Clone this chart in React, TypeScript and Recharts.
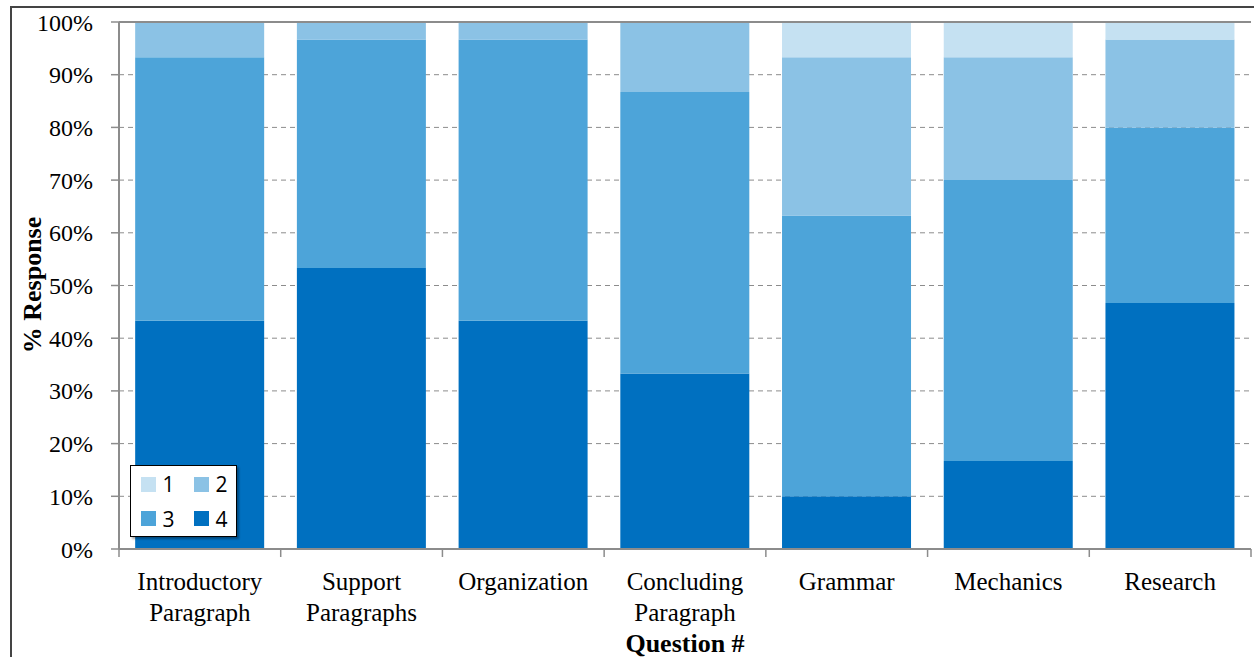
import {
  Bar,
  BarChart,
  CartesianGrid,
  Label,
  Legend,
  ReferenceLine,
  XAxis,
  YAxis,
} from "recharts";

const categories = [
  "Introductory Paragraph",
  "Support Paragraphs",
  "Organization",
  "Concluding Paragraph",
  "Grammar",
  "Mechanics",
  "Research",
];

// share of responses (%) per rating
const rating4 = [43.3, 53.3, 43.3, 33.3, 10, 16.7, 46.7];
const rating3 = [50, 43.4, 53.4, 53.4, 53.3, 53.3, 33.3];
const rating2 = [6.7, 3.3, 3.3, 13.3, 30, 23.3, 16.7];
const rating1 = [0, 0, 0, 0, 6.7, 6.7, 3.3];

const yTicks = [0, 10, 20, 30, 40, 50, 60, 70, 80, 90, 100];

const colors = { r1: "#C5E1F2", r2: "#8BC2E5", r3: "#4DA4D9", r4: "#0070C0" };
const legendItems = [
  { key: "1", color: colors.r1 },
  { key: "2", color: colors.r2 },
  { key: "3", color: colors.r3 },
  { key: "4", color: colors.r4 },
];

const data = categories.map((name, i) => ({
  name,
  r4: rating4[i],
  r3: rating3[i],
  r2: rating2[i],
  r1: rating1[i],
}));

const W = 1254;
const H = 657;
const margin = { top: 22, right: 3, bottom: 0, left: 59 };
const yAxisWidth = 60;
const xAxisHeight = 108;
const band = (W - margin.left - yAxisWidth - margin.right) / categories.length;
const serif = "'Liberation Serif', 'Times New Roman', serif";
const axisGray = "#8c8c8c";

function CategoryTick(props: any) {
  const { x, y, payload, index } = props;
  const words = String(payload.value).split(" ");
  return (
    <g>
      <line x1={x - band / 2} x2={x - band / 2} y1={y} y2={y + 8} stroke={axisGray} strokeWidth={1.5} />
      {index === categories.length - 1 && (
        <line x1={x + band / 2} x2={x + band / 2} y1={y} y2={y + 8} stroke={axisGray} strokeWidth={1.5} />
      )}
      <text x={x} y={y} textAnchor="middle" fontFamily={serif} fontSize={25} fill="#000">
        {words.map((w, i) => (
          <tspan key={i} x={x} dy={i === 0 ? 41 : 31}>
            {w}
          </tspan>
        ))}
      </text>
    </g>
  );
}

function LegendBox() {
  return (
    <div
      style={{
        boxSizing: "border-box",
        width: 107,
        height: 72,
        border: "1.5px solid #000",
        background: "#fff",
        boxShadow: "2px 2px 2px rgba(0,0,0,0.35)",
        display: "grid",
        gridTemplateColumns: "53px 1fr",
        gridTemplateRows: "36px 33px",
        padding: "0 0 0 9.5px",
        fontFamily: "'Open Sans', sans-serif",
        fontSize: 21,
        lineHeight: "24px",
        textAlign: "left",
      }}
    >
      {legendItems.map((it) => (
        <div key={it.key} style={{ display: "flex", alignItems: "center" }}>
          <span style={{ width: 15, height: 15, background: it.color, marginRight: 7, flex: "none" }} />
          <span>{it.key}</span>
        </div>
      ))}
    </div>
  );
}

export default function App() {
  return (
    <div style={{ position: "absolute", left: 0, top: 0, width: W, height: H, background: "#fff", overflow: "hidden" }}>
      <div
        style={{
          position: "absolute",
          left: 10,
          top: 6,
          width: W,
          height: H,
          borderLeft: "2px solid #444",
          borderTop: "2px solid #444",
        }}
      />
      <div style={{ position: "absolute", left: 0, top: 0 }}>
        <BarChart width={W} height={H} data={data} margin={margin} barCategoryGap="10%">
          <CartesianGrid vertical={false} stroke={axisGray} strokeDasharray="5 4" strokeWidth={1} />
          <XAxis
            dataKey="name"
            height={xAxisHeight}
            interval={0}
            tickLine={false}
            tickSize={0}
            tickMargin={0}
            axisLine={{ stroke: axisGray, strokeWidth: 2 }}
            tick={<CategoryTick />}
          >
            <Label
              content={(p: any) => {
                const vb = p.viewBox;
                return (
                  <text
                    x={vb.x + vb.width / 2}
                    y={vb.y + 103}
                    textAnchor="middle"
                    fontFamily={serif}
                    fontWeight="bold"
                    fontSize={26}
                    fill="#000"
                  >
                    Question #
                  </text>
                );
              }}
            />
          </XAxis>
          <YAxis
            width={yAxisWidth}
            domain={[0, 100]}
            ticks={yTicks}
            tickFormatter={(v) => `${v}%`}
            tickSize={8}
            tickMargin={18}
            tickLine={{ stroke: axisGray, strokeWidth: 1.5 }}
            axisLine={{ stroke: axisGray, strokeWidth: 2 }}
            tick={{ fontFamily: serif, fontSize: 24, fill: "#000" }}
          >
            <Label
              content={() => (
                <text
                  x={32}
                  y={285}
                  transform="rotate(-90 32 285)"
                  textAnchor="middle"
                  dominantBaseline="central"
                  fontFamily={serif}
                  fontWeight="bold"
                  fontSize={26}
                  fill="#000"
                >
                  % Response
                </text>
              )}
            />
          </YAxis>
          <YAxis
            yAxisId="right"
            orientation="right"
            width={0}
            domain={[0, 100]}
            tick={false}
            tickLine={false}
            axisLine={{ stroke: axisGray, strokeWidth: 2 }}
          />
          <ReferenceLine y={100} stroke={axisGray} strokeWidth={2} />
          <Bar dataKey="r4" stackId="a" fill={colors.r4} isAnimationActive={false} />
          <Bar dataKey="r3" stackId="a" fill={colors.r3} isAnimationActive={false} />
          <Bar dataKey="r2" stackId="a" fill={colors.r2} isAnimationActive={false} />
          <Bar dataKey="r1" stackId="a" fill={colors.r1} isAnimationActive={false} />
          <Legend
            layout="horizontal"
            verticalAlign="middle"
            align="center"
            content={<LegendBox />}
            wrapperStyle={{ position: "absolute", left: 130, top: 465, width: 107, height: 72 }}
          />
        </BarChart>
      </div>
    </div>
  );
}
